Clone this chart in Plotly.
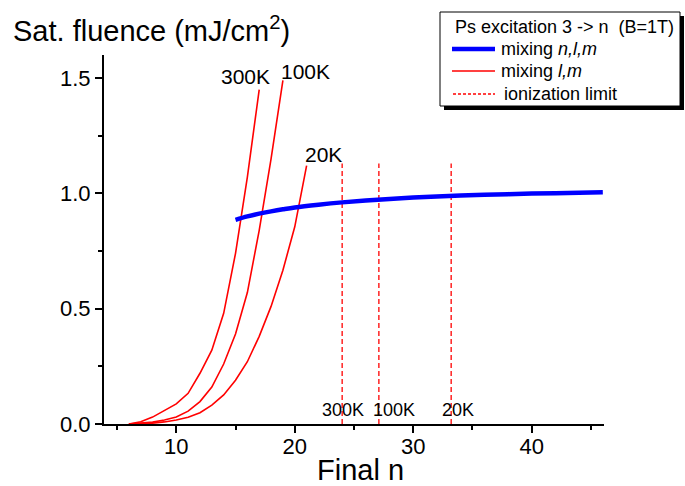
import plotly.graph_objects as go

# ---------------- data ----------------
n_nlm = [15, 16, 17, 18, 19, 20, 22, 24, 26, 28, 30, 33, 36, 40, 43, 46]
sat_nlm = [0.885, 0.900, 0.912, 0.922, 0.931, 0.939, 0.951, 0.961, 0.969,
           0.976, 0.982, 0.989, 0.994, 0.999, 1.002, 1.005]

n_300K = [6, 7, 8, 9, 10, 11, 12, 13, 14, 15, 16, 17]
sat_300K = [0.0, 0.010, 0.030, 0.060, 0.087, 0.133, 0.22, 0.32, 0.48, 0.74, 1.07, 1.45]

n_100K = [6, 7, 8, 9, 10, 11, 12, 13, 14, 15, 16, 17, 18, 19]
sat_100K = [0.0, 0.003, 0.008, 0.017, 0.030, 0.056, 0.097, 0.16, 0.26, 0.39,
            0.57, 0.84, 1.15, 1.49]

n_20K = [6, 7, 8, 9, 10, 11, 12, 13, 14, 15, 16, 17, 18, 19, 20, 21]
sat_20K = [0.0, 0.001, 0.004, 0.009, 0.017, 0.029, 0.049, 0.082, 0.126, 0.19,
           0.27, 0.38, 0.51, 0.667, 0.855, 1.12]

temps = ["300K", "100K", "20K"]
ion_n = [24.0, 27.1, 33.2]
ion_top = 1.13

x_ticks = [10, 20, 30, 40]
y_ticks = [0.0, 0.5, 1.0, 1.5]

# ---------------- layout geometry ----------------
W, H = 685, 486
L, R, T, B = 104, 604, 55, 424
FONT = "Liberation Sans, Arial, sans-serif"


def px(xp):
    return (xp - L) / (R - L)


def py(yp):
    return (B - yp) / (B - T)


fig = go.Figure()

RED = "#ff0000"
BLUE = "#0000ff"

for i, t in enumerate(temps):
    fig.add_trace(go.Scatter(x=[ion_n[i], ion_n[i]], y=[0, ion_top], mode="lines",
                             line=dict(color=RED, width=1.3, dash="5px,3px"),
                             showlegend=False, hoverinfo="skip"))

for xs, ys in [(n_300K, sat_300K), (n_100K, sat_100K), (n_20K, sat_20K)]:
    fig.add_trace(go.Scatter(x=xs, y=ys, mode="lines",
                             line=dict(color=RED, width=1.6),
                             showlegend=False))

fig.add_trace(go.Scatter(x=n_nlm, y=sat_nlm, mode="lines",
                         line=dict(color=BLUE, width=4.5, shape="spline"),
                         showlegend=False))

annotations = []
# curve-end labels
curve_label_pos = [(n_300K[-1], sat_300K[-1], -14, 13),
                   (n_100K[-1], sat_100K[-1], 23, 9),
                   (n_20K[-1], sat_20K[-1], 17, 11)]
for t, (xx, yy, dx, dy) in zip(temps, curve_label_pos):
    annotations.append(dict(x=xx, y=yy, xref="x", yref="y", text=t, showarrow=False,
                            xshift=dx, yshift=dy, font=dict(family=FONT, size=21, color="black")))

# ionization labels
ion_shift = [1, 15, 7]
for t, xx, dx in zip(temps, ion_n, ion_shift):
    annotations.append(dict(x=xx, y=0, xref="x", yref="y", text=t, showarrow=False,
                            xshift=dx, yshift=14, font=dict(family=FONT, size=18, color="black")))

# axis titles
annotations.append(dict(x=px(11), y=py(29), xref="paper", yref="paper", xanchor="left",
                        yanchor="middle", text="Sat. fluence (mJ/cm<sup>2</sup>)", showarrow=False,
                        font=dict(family=FONT, size=29, color="black")))
annotations.append(dict(x=px(360), y=py(470), xref="paper", yref="paper", xanchor="center",
                        yanchor="middle", text="Final n", showarrow=False,
                        font=dict(family=FONT, size=29, color="black")))

# legend box
shapes = []
shapes.append(dict(type="rect", xref="paper", yref="paper", x0=px(444), x1=px(684),
                   y0=py(110), y1=py(16), fillcolor="black", line=dict(width=0)))
shapes.append(dict(type="rect", xref="paper", yref="paper", x0=px(440), x1=px(680),
                   y0=py(106), y1=py(12), fillcolor="white", line=dict(color="black", width=1)))
shapes.append(dict(type="line", xref="paper", yref="paper", x0=px(452), x1=px(495),
                   y0=py(49), y1=py(49), line=dict(color=BLUE, width=4.5)))
shapes.append(dict(type="line", xref="paper", yref="paper", x0=px(452), x1=px(495),
                   y0=py(71), y1=py(71), line=dict(color=RED, width=1.6)))
shapes.append(dict(type="line", xref="paper", yref="paper", x0=px(453), x1=px(495),
                   y0=py(94), y1=py(94), line=dict(color=RED, width=1.3, dash="3px,2px")))

leg_items = [("Ps excitation 3 -&gt; n \u00a0(B=1T)", 453, 27),
             ("mixing <i>n,l,m</i>", 499, 49),
             ("mixing <i>l,m</i>", 499, 71),
             ("ionization limit", 502, 94)]
for txt, lx, ly in leg_items:
    annotations.append(dict(x=px(lx), y=py(ly), xref="paper", yref="paper", xanchor="left",
                            yanchor="middle", text=txt, showarrow=False,
                            font=dict(family=FONT, size=18, color="black")))

fig.update_layout(
    width=W, height=H,
    margin=dict(l=L, r=W - R, t=T, b=H - B, pad=0),
    paper_bgcolor="white", plot_bgcolor="white",
    showlegend=False,
    font=dict(family=FONT, size=22, color="black"),
    annotations=annotations,
    shapes=shapes,
)
fig.update_xaxes(range=[3.9, 46.1], showgrid=False, zeroline=False, showline=True,
                 linecolor="black", linewidth=2, ticks="outside", ticklen=7, tickwidth=2,
                 tickcolor="black", tickvals=x_ticks, ticklabelstandoff=-5,
                 minor=dict(ticks="outside", ticklen=4, tickwidth=2, tickcolor="black",
                            tickvals=[5, 15, 25, 35, 45]),
                 tickfont=dict(family=FONT, size=22))
fig.update_yaxes(range=[0, 1.6], showgrid=False, zeroline=False, showline=True,
                 linecolor="black", linewidth=2, ticks="outside", ticklen=7, tickwidth=2,
                 tickcolor="black", tickvals=y_ticks, tickformat=".1f",
                 minor=dict(ticks="outside", ticklen=4, tickwidth=2, tickcolor="black",
                            tickvals=[0.25, 0.75, 1.25]),
                 tickfont=dict(family=FONT, size=22))

fig.write_html("out.html", config={"displayModeBar": False},
               post_script="document.body.style.margin='0';document.body.style.padding='0';"
                           "document.body.style.overflow='hidden';")
